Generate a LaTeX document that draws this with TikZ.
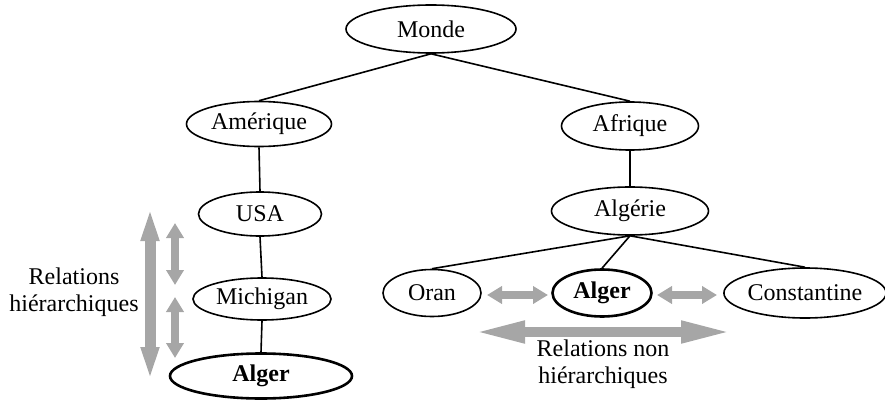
\documentclass[tikz,border=0pt]{standalone}
\usepackage{fontspec}
\setmainfont{Liberation Serif}
\usetikzlibrary{shapes.geometric,arrows.meta}
\tikzset{
  place/.style={ellipse, draw, line width=1.6pt, inner sep=0pt,
    font=\fontsize{24}{27}\selectfont},
  key/.style={place, line width=2.6pt, font=\fontsize{24}{27}\selectfont\bfseries},
  link/.style={line width=1.6pt},
  label/.style={align=center, font=\fontsize{24}{27}\selectfont},
  relbig/.style={draw=black!35, line width=#1},
  smallrel/.style={draw=black!35, line width=8pt,
    {Triangle[length=15pt,width=17pt]}-{Triangle[length=15pt,width=17pt]}}
}
\begin{document}
\begin{tikzpicture}[x=1pt,y=-1pt]
\useasboundingbox (0,0) rectangle (885,401);

% tree of places
\node[place, minimum width=170pt, minimum height=48pt] (monde) at (431,29) {Monde};
\node[place, minimum width=145pt, minimum height=45pt] (amerique) at (259,124) {Amérique};
\node[place, minimum width=137pt, minimum height=48pt] (afrique) at (630,126) {Afrique};
\node[place, minimum width=123pt, minimum height=44pt] (usa) at (260,214) {USA};
\node[place, minimum width=138pt, minimum height=42pt] (michigan) at (262,299) {Michigan};
\node[key, minimum width=182pt, minimum height=45pt] (algerL) at (261,376) {Alger};
\node[place, minimum width=157pt, minimum height=48pt] (algerie) at (630,211) {Algérie};
\node[place, minimum width=98pt, minimum height=47pt] (oran) at (432,293) {Oran};
\node[key, minimum width=99pt, minimum height=47pt] (algerR) at (602,293) {Alger};
\node[place, minimum width=158pt, minimum height=50pt] (constantine) at (805,293) {Constantine};

\draw[link] (monde.south) -- (amerique.north);
\draw[link] (monde.south) -- (afrique.north);
\draw[link] (amerique.south) -- (usa.north);
\draw[link] (usa.south) -- (michigan.north);
\draw[link] (michigan.south) -- (algerL.north);
\draw[link] (afrique.south) -- (algerie.north);
\draw[link] (algerie.south) -- (oran.north);
\draw[link] (algerie.south) -- (algerR.north);
\draw[link] (algerie.south) -- (constantine.north);

% hierarchical relations (vertical)
\coordinate (hTop) at (150,206);
\coordinate (hBot) at (150,382);
\draw[relbig=11pt, {Triangle[length=35pt,width=16pt]}-{Triangle[length=35pt,width=16pt]}] (hTop) -- (hBot);
\coordinate (s1a) at (175,223);
\coordinate (s1b) at (175,285);
\coordinate (s2a) at (175,297);
\coordinate (s2b) at (175,358);
\draw[smallrel] (s1a) -- (s1b);
\draw[smallrel] (s2a) -- (s2b);
\node[label] (hlabel) at (74,292) {Relations\\hiérarchiques};

% non hierarchical relations (horizontal)
\coordinate (o1) at (487,295);
\coordinate (o2) at (548,295);
\coordinate (c1) at (657,295);
\coordinate (c2) at (717,295);
\draw[smallrel] (o1) -- (o2);
\draw[smallrel] (c1) -- (c2);
\coordinate (nL) at (473,332);
\coordinate (nR) at (733,332);
\draw[relbig=10pt, {Triangle[length=52pt,width=20pt]}-{Triangle[length=52pt,width=20pt]}] (nL) -- (nR);
\node[label] (nlabel) at (603,364) {Relations non\\hiérarchiques};
\end{tikzpicture}
\end{document}
